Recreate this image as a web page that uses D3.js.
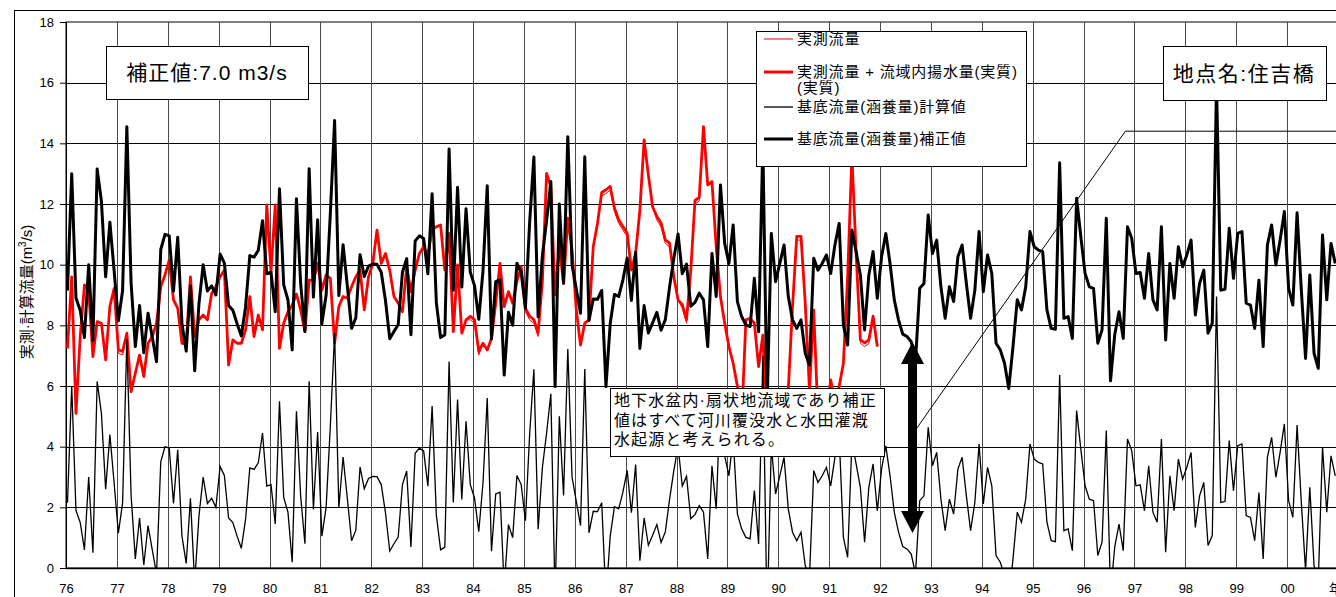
<!DOCTYPE html>
<html>
<head>
<meta charset="utf-8">
<script src="https://cdn.jsdelivr.net/npm/d3@7"></script>
<style>
  body { margin: 0; background: #fff; }
  svg { display: block; }
  text { font-family: "Liberation Sans", Arial, "Noto Sans CJK JP", sans-serif; fill: #000; }
</style>
</head>
<body>
<svg id="chart" width="1336" height="597"></svg>
<script>
// Year labels on the category axis (one every 12 months, 1976-2000)
const yearLabels = ["76","77","78","79","80","81","82","83","84","85","86","87","88",
                    "89","90","91","92","93","94","95","96","97","98","99","00"];
const yTicks = [0, 2, 4, 6, 8, 10, 12, 14, 16, 18];

// Correction added to the computed base flow (m3/s)
const correctionValue = 7.0;

// Base flow (recharge), corrected, monthly from Jan 1976 to Dec 2000
const correctedBaseflow = [
  9.15, 13.0, 8.9, 8.5, 7.6, 10.0, 7.5, 13.15, 12.1, 9.6, 11.4, 9.8,
  8.15, 9.15, 14.55, 9.4, 7.3, 8.65, 7.1, 8.4, 7.6, 6.8, 10.5, 11.0,
  10.95, 9.13, 10.9, 8.05, 7.15, 9.3, 6.5, 8.7, 10.0, 9.13, 9.3, 9.0,
  10.35, 10.05, 8.65, 8.5, 8.05, 7.65, 8.6, 10.3, 10.25, 10.47, 11.45, 9.7,
  9.75, 8.45, 12.5, 9.33, 8.84, 7.19, 12.17, 9.36, 7.8, 13.16, 8.93, 11.48,
  8.05, 9.0, 11.7, 14.75, 8.98, 10.66, 9.3, 7.9, 8.24, 10.33, 9.61, 9.95,
  10.02, 10.01, 9.75, 8.82, 7.56, 7.8, 8.02, 9.75, 10.2, 7.69, 10.78, 10.95,
  10.86, 9.7, 12.34, 8.74, 7.6, 7.69, 13.81, 9.16, 12.55, 9.26, 11.84, 9.75,
  9.31, 8.2, 9.8, 12.6, 7.55, 9.44, 9.5, 6.36, 8.43, 8.0, 10.05, 9.75,
  8.56, 11.4, 13.55, 8.28, 10.3, 11.45, 12.74, 5.98, 12.0, 9.39, 14.22, 10.0,
  9.2, 8.4, 13.56, 8.16, 8.87, 8.86, 9.15, 5.98, 8.05, 9.02, 8.95, 9.5,
  10.22, 8.82, 10.41, 7.24, 8.65, 7.75, 8.08, 8.43, 7.84, 8.19, 9.26, 10.2,
  11.01, 9.7, 10.02, 8.63, 8.76, 9.06, 8.84, 7.3, 10.37, 8.95, 12.63, 10.7,
  10.04, 11.31, 8.78, 8.29, 8.01, 7.96, 9.55, 7.79, 14.0, 5.3, 11.03, 9.44,
  10.04, 10.65, 8.95, 8.18, 7.9, 8.18, 7.08, 6.69, 10.21, 9.82, 10.04, 10.32,
  9.71, 10.65, 11.36, 8.01, 7.35, 11.14, 10.43, 9.66, 7.85, 9.66, 10.43, 8.89,
  10.26, 11.03, 10.04, 8.84, 8.18, 7.71, 7.63, 7.46, 6.8, 9.22, 9.38, 11.64,
  10.37, 10.81, 9.27, 8.23, 9.27, 8.78, 10.26, 10.65, 9.38, 8.23, 9.16, 11.09,
  9.11, 10.32, 9.71, 7.41, 7.19, 6.75, 5.92, 7.3, 8.84, 8.51, 9.27, 11.09,
  10.59, 10.48, 10.43, 8.51, 7.9, 7.87, 13.36, 8.23, 8.29, 7.57, 12.19, 10.92,
  9.71, 9.27, 9.22, 7.41, 7.85, 11.53, 6.17, 7.7, 8.45, 7.57, 11.25, 10.87,
  9.71, 9.74, 8.89, 10.37, 8.84, 8.51, 11.25, 7.52, 10.04, 8.89, 10.59, 9.93,
  10.32, 10.81, 8.34, 9.38, 9.82, 7.74, 8.07, 15.95, 9.16, 9.19, 11.2, 9.55,
  11.03, 11.09, 8.73, 8.67, 7.9, 9.49, 7.3, 10.65, 11.31, 9.99, 10.81, 11.75,
  9.22, 8.67, 11.71, 9.16, 6.91, 9.66, 7.08, 6.58, 10.98, 8.84, 10.7, 10.04
];

// Measured flow, monthly from Jan 1976 to Dec 1991
const measuredFlow = [
  7.24, 9.6, 5.1, 7.63, 9.33, 9.16, 6.97, 8.12, 8.07, 6.86, 8.62, 9.22,
  7.08, 7.02, 7.74, 5.81, 6.42, 7.02, 6.31, 7.41, 7.63, 8.07, 9.27, 9.66,
  10.15, 8.84, 8.56, 7.41, 7.41, 9.6, 7.63, 8.18, 8.34, 8.18, 9.05, 9.27,
  9.6, 9.82, 6.69, 7.52, 7.41, 7.41, 7.85, 8.95, 7.63, 8.34, 7.85, 11.97,
  9.77, 11.97, 7.24, 8.07, 8.45, 8.67, 9.03, 8.51, 7.79, 9.49, 9.49, 10.04,
  9.16, 9.66, 9.55, 7.41, 8.62, 8.95, 8.89, 9.27, 9.6, 9.82, 8.51, 9.6,
  10.04, 11.14, 10.04, 10.37, 9.82, 8.95, 8.73, 8.45, 9.93, 9.11, 9.82, 10.37,
  10.59, 10.32, 11.14, 11.25, 11.31, 9.82, 11.03, 7.79, 9.99, 7.74, 8.18, 8.18,
  8.07, 7.02, 7.41, 7.19, 7.57, 8.73, 10.04, 8.62, 9.11, 8.73, 9.44, 9.82,
  8.45, 8.18, 8.07, 7.63, 9.44, 13.01, 12.57, 9.0, 10.59, 9.38, 11.53, 10.48,
  8.51, 7.35, 8.07, 8.18, 10.59, 11.36, 12.26, 12.35, 12.46, 11.75, 11.36, 11.14,
  10.92, 9.82, 10.37, 11.8, 14.11, 12.96, 11.91, 11.47, 11.25, 10.7, 10.59, 9.6,
  8.84, 8.56, 8.07, 9.8, 12.0, 12.1, 14.55, 12.63, 12.74, 10.59, 8.95, 8.07,
  7.3, 6.75, 5.98, 4.8, 8.18, 8.23, 8.07, 6.64, 7.68, 4.5, 4.0, 5.0,
  4.5, 4.3, 5.87, 8.5, 10.81, 10.81, 8.73, 5.87, 8.5, 5.0, 4.5, 5.0,
  6.2, 5.5, 5.98, 6.75, 9.6, 13.6, 10.37, 7.41, 7.3, 7.4, 8.18, 7.3
];

// Pumping within the basin (net), added to the measured flow
const pumpingVolume = [
  0, 0, 0, 0, 0, 0, 0, 0, 0, 0, 0, 0,
  0.12, 0.12, 0, 0, 0, 0, 0, 0, 0, 0, 0, 0,
  0, 0, 0, 0, 0, 0, 0, 0, 0, 0, 0, 0,
  0, 0, 0, 0, 0, 0, 0, 0, 0, 0, 0, 0,
  0, 0, 0, 0, 0, 0, 0, 0, 0, 0, 0, 0,
  0, 0, 0, 0, 0, 0, 0, 0, 0, 0, 0, 0,
  0, 0, 0, 0, 0, 0, 0, 0, 0, 0, 0, 0,
  0, 0, 0, 0, 0, 0, 0, 0, 0, 0, 0, 0.12,
  0.12, 0.12, 0, 0, 0, 0, 0, 0, 0, 0, 0, 0.12,
  0.12, 0.12, 0.12, 0.12, 0, 0, 0, 0, 0, 0, 0, 0,
  0, 0, 0, 0, 0, 0, 0.12, 0.12, 0.12, 0.12, 0.12, 0.12,
  0.12, 0, 0, 0, 0, 0, 0, 0.12, 0.12, 0.12, 0.12, 0,
  0, 0.12, 0.12, 0, 0.12, 0.12, 0, 0, 0, 0, 0, 0,
  0, 0, 0, 0, 0, 0, 0, 0, 0, 0, 0, 0,
  0, 0, 0, 0.12, 0.12, 0.12, 0, 0, 0, 0, 0, 0,
  0, 0, 0, 0, 0, 0, 0, 0.12, 0.12, 0.12, 0.12, 0
];

// Derived series
const computedBaseflow = correctedBaseflow.map(v => v - correctionValue);
const measuredPlusPumping = measuredFlow.map((v, i) => v + pumpingVolume[i]);

const svg = d3.select("#chart");
const W = 1336, H = 597;
const plot = { left: 66, top: 22, right: 1338, bottom: 568 };
const nMonths = 300;

svg.append("rect").attr("width", W).attr("height", H).attr("fill", "#fff");
// chart area frame
svg.append("rect").attr("x", 14.5).attr("y", 10.5).attr("width", 1400).attr("height", 700)
  .attr("fill", "none").attr("stroke", "#000").attr("stroke-width", 1);

const x = d3.scaleLinear().domain([0, nMonths]).range([plot.left, plot.right]);
const y = d3.scaleLinear().domain([0, 18]).range([plot.bottom, plot.top]);
const px = i => x(i + 0.35);

// plot area frame
svg.append("rect").attr("x", plot.left).attr("y", plot.top)
  .attr("width", plot.right - plot.left).attr("height", plot.bottom - plot.top)
  .attr("fill", "#fff").attr("stroke", "#000").attr("stroke-width", 1);

// gridlines
const grid = svg.append("g").attr("stroke-width", 1).attr("shape-rendering", "crispEdges");
grid.selectAll("line.h").data(yTicks.filter(t => t > 0 && t < 18)).join("line")
  .attr("stroke", "#000")
  .attr("x1", plot.left).attr("x2", plot.right)
  .attr("y1", d => Math.round(y(d)) + 0.5).attr("y2", d => Math.round(y(d)) + 0.5);
grid.selectAll("line.v").data(d3.range(1, yearLabels.length + 1)).join("line")
  .attr("stroke", "#4a4a4a")
  .attr("y1", plot.top).attr("y2", plot.bottom)
  .attr("x1", d => Math.round(x(d * 12)) + 0.5).attr("x2", d => Math.round(x(d * 12)) + 0.5);

// axes
const yAxis = d3.axisLeft(y).tickValues(yTicks).tickSize(6).tickFormat(d3.format("d"));
const gy = svg.append("g").attr("transform", `translate(${plot.left},0)`).call(yAxis);
gy.select(".domain").remove();
gy.selectAll("text").attr("font-size", 13).attr("x", -12)
  .style("font-family", '"Liberation Sans", Arial, sans-serif');

const xAxis = d3.axisBottom(x).tickValues(d3.range(0, yearLabels.length).map(k => k * 12))
  .tickSize(0).tickFormat((d, k) => yearLabels[k]);
const gx = svg.append("g").attr("transform", `translate(0,${plot.bottom})`).call(xAxis);
gx.select(".domain").remove();
gx.selectAll("text").attr("font-size", 13).attr("y", 16)
  .style("font-family", '"Liberation Sans", Arial, sans-serif');

svg.append("line").attr("x1", plot.left).attr("x2", plot.right)
  .attr("y1", plot.bottom + 0.5).attr("y2", plot.bottom + 0.5).attr("stroke", "#000").attr("stroke-width", 1.5);
svg.append("line").attr("x1", plot.left + 0.5).attr("x2", plot.left + 0.5)
  .attr("y1", plot.top).attr("y2", plot.bottom).attr("stroke", "#000").attr("stroke-width", 1);

// axis unit, partly past the right edge
svg.append("text").attr("x", 1329).attr("y", 593).attr("font-size", 13).text("年");

// y-axis title
const yt = svg.append("text")
  .attr("transform", "translate(32,292) rotate(-90)")
  .attr("text-anchor", "middle").attr("font-size", 15);
yt.append("tspan").text("実測·計算流量(m");
yt.append("tspan").attr("font-size", 10).attr("dy", -6).text("3");
yt.append("tspan").attr("dy", 6).text("/s)");

// series
svg.append("clipPath").attr("id", "plotClip").append("rect")
  .attr("x", plot.left).attr("y", plot.top)
  .attr("width", plot.right - plot.left).attr("height", plot.bottom - plot.top);
const series = svg.append("g").attr("clip-path", "url(#plotClip)");
const line = d3.line().x((d, i) => px(i)).y(d => y(d));

series.append("path").datum(measuredFlow).attr("d", line)
  .attr("fill", "none").attr("stroke", "#ff0000").attr("stroke-width", 1);
series.append("path").datum(measuredPlusPumping).attr("d", line)
  .attr("fill", "none").attr("stroke", "#ff0000").attr("stroke-width", 2.8).attr("stroke-linejoin", "round");
series.append("path").datum(computedBaseflow).attr("d", line)
  .attr("fill", "none").attr("stroke", "#000").attr("stroke-width", 1.3);
series.append("path").datum(correctedBaseflow).attr("d", line)
  .attr("fill", "none").attr("stroke", "#000").attr("stroke-width", 3).attr("stroke-linejoin", "round");

// boxed labels
function box(x0, y0, w, h) {
  svg.append("rect").attr("x", x0 + 0.5).attr("y", y0 + 0.5).attr("width", w).attr("height", h)
    .attr("fill", "#fff").attr("stroke", "#000").attr("stroke-width", 1);
}
box(106, 46, 202, 53);
svg.append("text").attr("x", 207).attr("y", 80).attr("letter-spacing", 1)
  .attr("text-anchor", "middle").attr("font-size", 21).text("補正値:7.0 m3/s");

box(1163, 46, 163, 54);
svg.append("text").attr("x", 1244).attr("y", 81).attr("letter-spacing", 1.5)
  .attr("text-anchor", "middle").attr("font-size", 21).text("地点名:住吉橋");

// legend
box(756, 31, 270, 135);
const legendItems = [
  { label: ["実測流量"], color: "#ff0000", w: 1, y: 39 },
  { label: ["実測流量 + 流域内揚水量(実質)", "(実質)"], color: "#ff0000", w: 3, y: 72 },
  { label: ["基底流量(涵養量)計算値"], color: "#000", w: 1.3, y: 107 },
  { label: ["基底流量(涵養量)補正値"], color: "#000", w: 3, y: 139 }
];
legendItems.forEach(it => {
  svg.append("line").attr("x1", 764).attr("x2", 793).attr("y1", it.y).attr("y2", it.y)
    .attr("stroke", it.color).attr("stroke-width", it.w);
  it.label.forEach((t, k) => {
    svg.append("text").attr("x", 797).attr("y", it.y + 5 + k * 16).attr("letter-spacing", 0.8)
      .attr("font-size", 15).text(t);
  });
});

// explanatory note with leader
box(610, 388, 274, 68);
const note = ["地下水盆内·扇状地流域であり補正", "値はすべて河川覆没水と水田灌漑", "水起源と考えられる。"];
note.forEach((t, k) => {
  svg.append("text").attr("x", 614).attr("y", 406 + k * 19.5).attr("letter-spacing", 1.1)
    .attr("font-size", 16).text(t);
});

// double-headed arrow showing the correction
const ax = px(199.3), yTop = y(7.45), yBot = y(1.15);
const hw = 11.5, hh = 22, sw = 4.5;
svg.append("path").attr("fill", "#000").attr("d",
  `M${ax},${yTop} L${ax + hw},${yTop + hh} L${ax + sw},${yTop + hh} L${ax + sw},${yBot - hh} ` +
  `L${ax + hw},${yBot - hh} L${ax},${yBot} L${ax - hw},${yBot - hh} L${ax - sw},${yBot - hh} ` +
  `L${ax - sw},${yTop + hh} L${ax - hw},${yTop + hh} Z`);

svg.append("polyline").attr("fill", "none").attr("stroke", "#000").attr("stroke-width", 1)
  .attr("points", `${ax + 3},${y(4.55)} ${px(249.5)},${y(14.4)} 1340,${y(14.4)}`);
</script>
</body>
</html>
